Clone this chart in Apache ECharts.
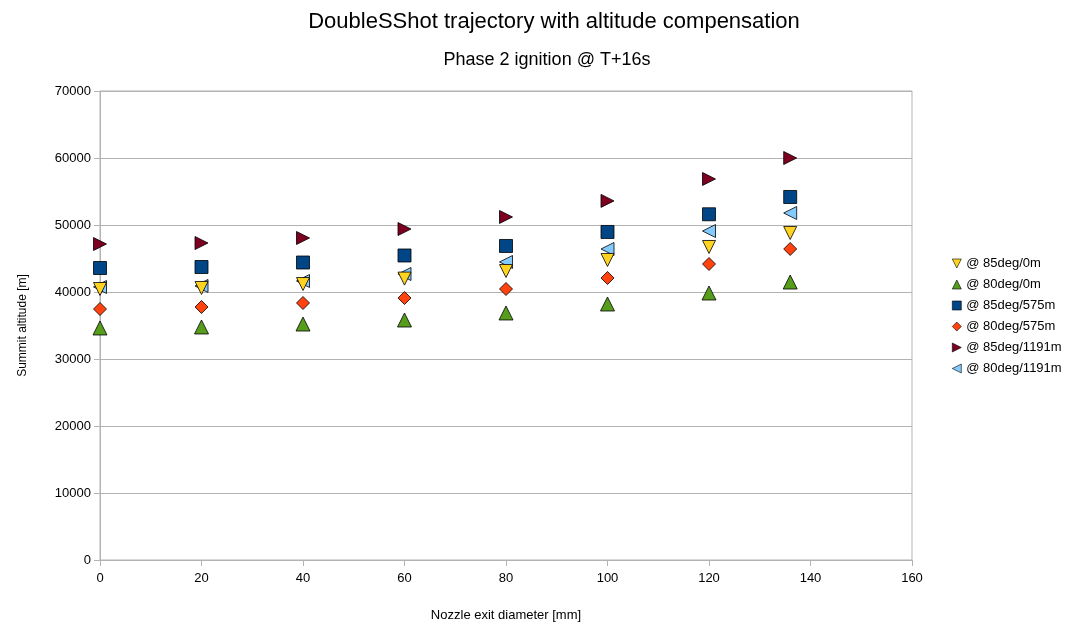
<!DOCTYPE html>
<html>
<head>
<meta charset="utf-8">
<script src="https://cdn.jsdelivr.net/npm/echarts@6/dist/echarts.min.js"></script>
<style>html,body{margin:0;padding:0;background:#fff;}#c{width:1068px;height:624px;}</style>
</head>
<body>
<div id="c"></div>
<script>
const xValues = [0, 20, 40, 60, 80, 100, 120, 136];
const s85_0 = [40450, 40600, 41190, 42000, 43130, 44780, 46720, 48810];
const s80_0 = [34630, 34780, 35220, 35820, 36870, 38210, 39850, 41490];
const s85_575 = [43580, 43730, 44400, 45450, 46870, 48960, 51600, 54180];
const s80_575 = [37460, 37760, 38360, 39100, 40450, 42090, 44180, 46420];
const s85_1191 = [47160, 47310, 48060, 49400, 51200, 53600, 56870, 60000];
const s80_1191 = [40750, 40900, 41640, 42690, 44480, 46420, 49100, 51790];
const seriesNames = ['@ 85deg/0m', '@ 80deg/0m', '@ 85deg/575m', '@ 80deg/575m', '@ 85deg/1191m', '@ 80deg/1191m'];
const titleText = 'DoubleSShot trajectory with altitude compensation';
const subtitleText = 'Phase 2 ignition @ T+16s';
const xName = 'Nozzle exit diameter [mm]';
const yName = 'Summit altitude [m]';

const FONT = 'Liberation Sans';
const pairs = v => xValues.map((x, i) => [x, v[i]]);
const sym = {
  down: 'path://M0,0L20,0L10,20Z',
  up: 'path://M10,0L20,20L0,20Z',
  rect: 'rect',
  diamond: 'diamond',
  right: 'path://M0,0L20,10L0,20Z',
  left: 'path://M20,0L0,10L20,20Z'
};
function mk(name, data, color, symbol, size, z) {
  return {
    name: name, type: 'scatter', data: pairs(data), symbol: symbol, symbolSize: size, z: z,
    itemStyle: { color: color, borderColor: '#000', borderWidth: 0.8, opacity: 1 },
    emphasis: { disabled: true }
  };
}
const chart = echarts.init(document.getElementById('c'));
chart.setOption({
  animation: false,
  backgroundColor: '#fff',
  textStyle: { fontFamily: FONT },
  title: [
    { text: titleText, left: 549, textAlign: 'center', top: 6, textStyle: { fontFamily: FONT, fontSize: 22, fontWeight: 'normal', color: '#000' } },
    { text: subtitleText, left: 542, textAlign: 'center', top: 46, textStyle: { fontFamily: FONT, fontSize: 18, fontWeight: 'normal', color: '#000' } }
  ],
  legend: {
    orient: 'vertical', left: 947, top: 252,
    data: seriesNames,
    itemWidth: 9, itemHeight: 9, itemGap: 8,
    itemStyle: { borderWidth: 0.6 },
    textStyle: { fontFamily: FONT, fontSize: 13, color: '#000', lineHeight: 13 }
  },
  grid: { left: 100, right: 156, top: 91, bottom: 64, outerBoundsMode: 'none', containLabel: false, show: true, borderColor: '#b3b3b3', borderWidth: 1 },
  xAxis: {
    type: 'value', min: 0, max: 160, interval: 20,
    name: xName, nameLocation: 'middle', nameGap: 49,
    nameTextStyle: { fontFamily: FONT, fontSize: 13, color: '#000' },
    axisLine: { show: true, lineStyle: { color: '#b3b3b3' } },
    axisTick: { show: true, length: 6, lineStyle: { color: '#b3b3b3' } },
    axisLabel: { fontFamily: FONT, fontSize: 13, color: '#000', margin: 12 },
    splitLine: { show: false }
  },
  yAxis: {
    type: 'value', min: 0, max: 70000, interval: 10000,
    name: yName, nameLocation: 'middle', nameGap: 71, nameRotate: 90,
    nameTextStyle: { fontFamily: FONT, fontSize: 12, color: '#000' },
    axisLine: { show: true, lineStyle: { color: '#b3b3b3' } },
    axisTick: { show: true, length: 6, lineStyle: { color: '#b3b3b3' } },
    axisLabel: { fontFamily: FONT, fontSize: 13, color: '#000', margin: 9, formatter: v => String(v) },
    splitLine: { show: true, lineStyle: { color: '#b3b3b3' } }
  },
  series: [
    mk(seriesNames[5], s80_1191, '#83caff', sym.left, [13, 13], 2),
    mk(seriesNames[0], s85_0, '#ffd320', sym.down, [13, 13], 3),
    mk(seriesNames[1], s80_0, '#579d1c', sym.up, [14, 14], 3),
    mk(seriesNames[2], s85_575, '#004586', sym.rect, [13, 13], 3),
    mk(seriesNames[3], s80_575, '#ff420e', sym.diamond, [13, 13], 3),
    mk(seriesNames[4], s85_1191, '#7e0021', sym.right, [13, 13], 3)
  ]
});
</script>
</body>
</html>
